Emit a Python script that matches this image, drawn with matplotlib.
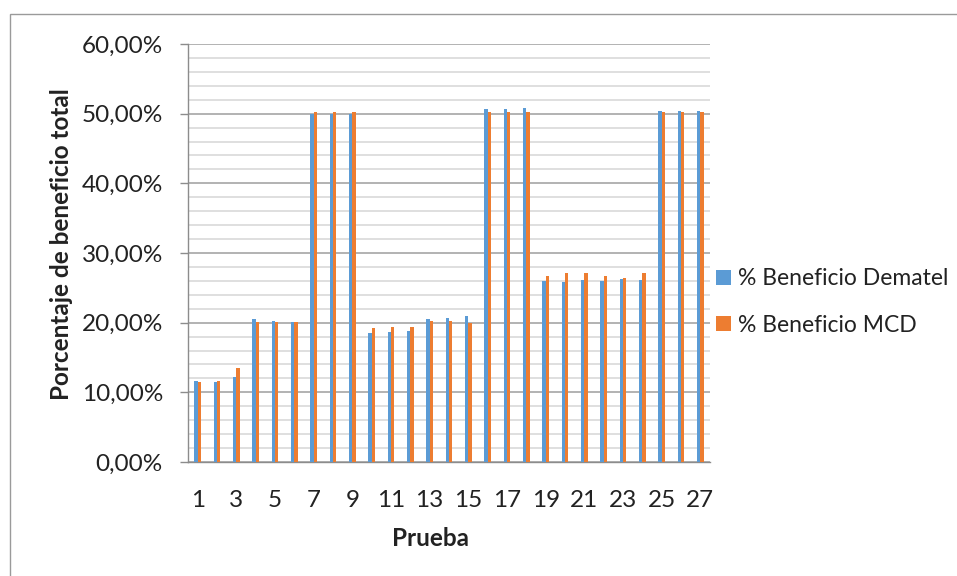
import numpy as np
import matplotlib.pyplot as plt
from matplotlib.ticker import MultipleLocator, FuncFormatter
from matplotlib.patches import Rectangle

plt.rcParams['font.family'] = ['Lato', 'DejaVu Sans']

pruebas = list(range(1, 28))
dematel = [11.57, 11.43, 12.14, 20.56, 20.27, 20.08, 50.00, 50.00, 50.00,
           18.50, 18.60, 18.79, 20.56, 20.65, 20.89, 50.72, 50.72, 50.81,
           26.05, 25.81, 26.15, 26.05, 26.24, 26.15, 50.33, 50.38, 50.38]
mcd = [11.43, 11.57, 13.48, 20.13, 20.13, 20.13, 50.24, 50.24, 50.24,
       19.22, 19.41, 19.41, 20.17, 20.17, 19.89, 50.24, 50.24, 50.24,
       26.77, 27.10, 27.10, 26.77, 26.48, 27.10, 50.24, 50.24, 50.24]

azul = '#5B9BD5'
naranja = '#ED7D31'
fs = 17.5

W, H = 957, 576
fig = plt.figure(figsize=(W / 100, H / 100), dpi=100)
ax = fig.add_axes([188 / W, 1 - 462 / H, (710 - 188) / W, (462 - 44) / H])

# marco exterior del gráfico
fig.patches.append(Rectangle((10 / W, -0.1), 1.2, 1 - 14 / H + 0.1,
                             transform=fig.transFigure, fill=False,
                             edgecolor='#9a9a9a', linewidth=1.0))

x = np.arange(len(pruebas))
w = 0.18
ax.bar(x - w / 2, np.array(dematel) / 100, w, color=azul, label='% Beneficio Dematel', zorder=3)
ax.bar(x + w / 2, np.array(mcd) / 100, w, color=naranja, label='% Beneficio MCD', zorder=3)

ax.set_xlim(-0.5, len(pruebas) - 0.5)
ax.set_ylim(0, 0.6)
ax.yaxis.set_major_locator(MultipleLocator(0.10))
ax.yaxis.set_minor_locator(MultipleLocator(0.02))
ax.yaxis.set_major_formatter(FuncFormatter(lambda v, p: f'{v * 100:.2f}%'.replace('.', ',')))
ax.grid(which='major', axis='y', color='#a6a6a6', linewidth=1.2, zorder=0)
ax.grid(which='minor', axis='y', color='#d9d9d9', linewidth=1.2, zorder=0)

ax.set_xticks(x[::2])
ax.set_xticklabels([str(p) for p in pruebas[::2]])
ax.tick_params(axis='x', length=0, pad=20, labelsize=fs, colors='#222222')
ax.tick_params(axis='y', which='major', length=6, width=1, color='#8c8c8c',
               pad=12, labelsize=fs, labelcolor='#222222')
ax.tick_params(axis='y', which='minor', length=0)

for s in ['top', 'right']:
    ax.spines[s].set_visible(False)
for s in ['left', 'bottom']:
    ax.spines[s].set_color('#8c8c8c')
    ax.spines[s].set_linewidth(1.0)

fig.text(62 / W, 1 - 244 / H, 'Porcentaje de beneficio total', rotation=90,
         ha='center', va='center', fontsize=fs, fontweight='bold', color='#222222')
fig.text(430 / W, 1 - 539 / H, 'Prueba', ha='center', va='center',
         fontsize=fs, fontweight='bold', color='#222222')

ax.legend(loc='center left', bbox_to_anchor=(705 / W, 1 - 302 / H),
          bbox_transform=fig.transFigure, frameon=False, fontsize=16.5,
          handlelength=0.65, handleheight=0.65, handletextpad=0.3,
          labelspacing=1.1, borderpad=0, labelcolor='#222222')

fig.savefig('out.png', dpi=100)
